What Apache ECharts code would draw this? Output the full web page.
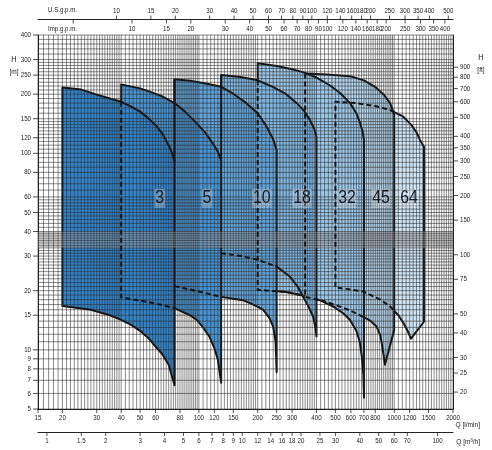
<!DOCTYPE html>
<html><head><meta charset="utf-8">
<script src="https://cdn.jsdelivr.net/npm/echarts@6/dist/echarts.min.js"></script>
<style>html,body{margin:0;padding:0;background:#fff}#c{width:492px;height:450px}</style>
</head><body><div id="c"></div>
<script>
// ---------- data (Q in l/min, H in m) ----------
const shapeNames = ['3', '5', '10', '18', '32', '45', '64'];

const top3 = [[20,216],[25,211],[30,199],[35,190],[40,183],[45,173],[50,163],[55,151],[60,139],[65,126],[70,110],[73,100],[75,90]];
const right3 = [];
const bottom3 = [[20,16.7],[28,16],[35,15],[40,14.2],[45,13.4],[50,12.5],[55,11.5],[60,10.4],[65,9.5],[70,8.4],[75,6.6]];

const top5 = [[40,224],[50,214],[56,206],[65,195],[75,180],[85,163],[97.5,142],[108,127],[118,112],[125,102],[130,92]];
const right5 = [];
const bottom5 = [[40,18.5],[50,17.8],[60,17.2],[75,16.3],[90,15],[97.5,14.2],[105,13],[113,11.7],[120,10.2],[125,8.9],[130,6.8]];

const top10 = [[75,238],[90,234],[110,226],[130,218],[150,201],[175,180],[200,160],[222,137],[240,118],[250,104]];
const right10 = [];
const bottom10 = [[75,21.1],[100,19.8],[130,18.6],[168,17.9],[190,17],[213,16],[230,14.5],[240,13.1],[247,11],[250,7.7]];

const top18 = [[130,250],[160,245],[198,236],[239,218],[280,200],[317,180],[345,165],[370,148],[390,133],[400,121]];
const right18 = [];
const bottom18 = [[130,31],[165,30],[201,28.7],[250,26.5],[292,23.6],[320,21],[342,18.6],[365,16.5],[385,14.7],[395,13],[400,11.7]];

const top32 = [[200,287],[250,278],[300,268],[341,259],[400,243],[468,222],[530,202],[594,180],[640,160],[670,142],[690,128],[700,117]];
const right32 = [];
const bottom32 = [[200,20.2],[280,19.7],[349,18.8],[420,17.8],[488,16.6],[550,15.3],[594,14.2],[640,12.5],[666,11],[685,9],[695,7.5],[700,5.7]];

const top45 = [[350,255],[450,252],[594,247],[700,235],[797,218],[880,200],[953,180],[985,165],[1000,157]];
const right45 = [[1000,12.6]];
const bottom45 = [[350,18.6],[430,17.8],[527,16.6],[600,15.8],[695,14.7],[760,14],[813,13.1],[850,11.8],[880,9.6],[896,8.4]];

const top64 = [[500,183],[643,180],[800,174],[953,166],[1109,154],[1220,140],[1300,128],[1355,117],[1420,108]];
const right64 = [[1420,13.9]];
const bottom64 = [[500,20.8],[695,19.8],[850,18],[953,16.6],[1050,15],[1117,13.65],[1170,12.5],[1219,11.4]];

// hidden boundary parts (drawn dashed)
const dash5 = [[40,183],[40,18.5],[50,17.8],[60,17.2],[75,16.3]];
const dash10 = [[75,21.1],[100,19.8],[130,18.6]];
const dash18 = [[130,31],[165,30],[201,28.7],[250,26.5]];
const dash32 = [[200,236],[200,20.2],[280,19.7],[349,18.8]];
const dash45 = [[350,255],[350,18.6],[430,17.8],[527,16.6],[600,15.8],[695,14.7]];
const dash64 = [[1000,162],[953,166],[800,174],[643,180],[500,183],[500,20.8],[695,19.8],[850,18],[953,16.6],[1000,15.8]];
const solid10 = [[75,238],[75,90]];
const solid18 = [[130,250],[130,92]];

// label positions
const labelQ = [63, 110, 210, 337, 573, 856, 1190];
const labelH = [59, 59, 59, 59, 59, 59, 59];

// tick labels
const yTicksM = [5,6,7,8,9,10,15,20,30,40,50,60,80,100,120,150,200,250,300,400];
const yTicksFt = [20,25,30,40,50,75,100,150,200,250,300,350,400,500,600,700,800,900];
const xTicksLmin = [15,20,30,40,50,60,80,100,120,150,200,250,300,400,500,600,700,800,1000,1200,1500,2000];
const xTicksM3h = [1,1.5,2,3,4,5,6,7,8,9,10,12,14,16,18,20,25,30,40,50,60,70,100];
const xTicksUS = [10,15,20,30,40,50,60,70,80,90,100,120,140,160,180,200,250,300,350,400,500];
const xTicksImp = [5,10,15,20,30,40,50,60,70,80,90,100,120,140,160,180,200,250,300,350,400];
const xLabelsImp = ['',10,15,20,30,40,50,60,70,80,90,100,120,140,160,180,200,250,300,350,400];

// grid line rules [from, to, step]
const gridQSteps = [[15,40,1],[40,100,2],[100,200,5],[200,400,10],[400,1000,20],[1000,2000,50]];
const gridHSteps = [[5,40,1],[40,60,2],[60,150,5],[150,300,10],[300,400,20]];
const bandHSteps = [[33.5,39.5,1]];
const bandH = [33, 40];

const colors = {'3':'#3383c9','5':'#4893d1','10':'#62a4da','18':'#80b7e2','32':'#9dc8ea','45':'#b8d8f0','64':'#d0e6f6'};

// ---------- helpers ----------
function expand(steps){
  const out = [];
  steps.forEach(([a,b,s]) => { for (let v = a; v <= b + 1e-9; v += s) { const r = Math.round(v*100)/100; if (!out.includes(r)) out.push(r); } });
  return out;
}
const gridQ = expand(gridQSteps);
const gridH = expand(gridHSteps);
const bandLines = expand(bandHSteps);
const FONT = '"Liberation Sans",Arial,sans-serif';
const INK = '#141414';
const NARROW = 0.82;

function shapeSeries(name, top, right, bottom){
  const pts = top.concat(right, bottom.slice().reverse());
  return {
    type:'custom', name, xAxisIndex:0, yAxisIndex:0, silent:true, data: pts,
    renderItem(params, api){
      if (params.dataIndex !== 0) return;
      return {type:'polygon', shape:{points: pts.map(p => api.coord(p))},
        style:{fill: colors[name], stroke: INK, lineWidth: 2, lineJoin:'round'}};
    }
  };
}
function lineSeries(pts, dashed){
  return {
    type:'custom', xAxisIndex:0, yAxisIndex:0, silent:true, data: pts,
    renderItem(params, api){
      if (params.dataIndex !== 0) return;
      return {type:'polyline', shape:{points: pts.map(p => api.coord(p))},
        style:{stroke: INK, lineWidth: 2, fill:null, lineDash: dashed ? [5,3] : null}};
    }
  };
}
function gridSeries(values, vertical, width, color){
  const data = values.map(v => vertical ? [v,5] : [15,v]);
  return {
    type:'custom', xAxisIndex:0, yAxisIndex:0, silent:true, data,
    renderItem(params, api){
      const v = values[params.dataIndex];
      const a = vertical ? api.coord([v,5]) : api.coord([15,v]);
      const b = vertical ? api.coord([v,400]) : api.coord([2000,v]);
      return {type:'line', shape:{x1:a[0],y1:a[1],x2:b[0],y2:b[1]}, style:{stroke:color, lineWidth:width}};
    }
  };
}
const OFF_M3H = 23, OFF_TOP = 15.5;
function tickSeries(values, labels, xIdx, yIdx, mode){
  const fixed = {left:15, right:2000, bottom:5, m3h:5, us:400, imp:400}[mode];
  const vertical = (mode === 'left' || mode === 'right');
  const data = values.map(v => vertical ? [fixed, v] : [v, fixed]);
  return {
    type:'custom', xAxisIndex:xIdx, yAxisIndex:yIdx, silent:true, data,
    renderItem(params, api){
      const p = api.coord(data[params.dataIndex]);
      const lab = labels[params.dataIndex];
      const x = p[0], y = p[1];
      let ln, tx, ty, a = 'center', va = 'middle';
      if (mode === 'left') { ln = {x1:x-5,y1:y,x2:x,y2:y}; tx = x-7; ty = y; a = 'right'; }
      else if (mode === 'right') { ln = {x1:x,y1:y,x2:x+5,y2:y}; tx = x+7; ty = y; a = 'left'; }
      else if (mode === 'bottom') { ln = {x1:x,y1:y,x2:x,y2:y+4}; tx = x; ty = y+5; va = 'top'; }
      else if (mode === 'm3h') { const y0 = y+OFF_M3H; ln = {x1:x,y1:y0,x2:x,y2:y0+4}; tx = x; ty = y0+5; va = 'top'; }
      else if (mode === 'us') { const y0 = y-OFF_TOP; ln = {x1:x,y1:y0-4,x2:x,y2:y0}; tx = x; ty = y0-5; va = 'bottom'; }
      else { const y0 = y-OFF_TOP; ln = {x1:x,y1:y0,x2:x,y2:y0+4}; tx = x; ty = y0+5; va = 'top'; }
      const children = [{type:'line', shape:ln, style:{stroke:'#222', lineWidth:0.8}}];
      if (lab !== '' && lab != null) children.push({type:'text', x:tx, y:ty, scaleX:NARROW,
        style:{text:String(lab), align:a, textAlign:a, verticalAlign:va, textVerticalAlign:va, fontSize:7.5, fontFamily:FONT, fill:'#222'}});
      return {type:'group', children};
    }
  };
}
function bandSeries(){
  return {
    type:'custom', xAxisIndex:0, yAxisIndex:0, silent:true, data:[[15, bandH[1]]],
    renderItem(params, api){
      const a = api.coord([15, bandH[1]]), b = api.coord([2000, bandH[0]]);
      return {type:'rect', shape:{x:a[0], y:a[1], width:b[0]-a[0], height:b[1]-a[1]}, style:{fill:'rgba(215,215,215,0.35)'}};
    }
  };
}
function labelSeries(){
  const data = labelQ.map((q,i) => [q, labelH[i]]);
  return {
    type:'custom', xAxisIndex:0, yAxisIndex:0, silent:true, data,
    renderItem(params, api){
      const p = api.coord(data[params.dataIndex]);
      return {type:'text', x:p[0], y:p[1], scaleX:0.88,
        style:{text:shapeNames[params.dataIndex], align:'center', textAlign:'center', verticalAlign:'middle', textVerticalAlign:'middle',
          fontSize:18, fontFamily:FONT, fill:'#121b26', backgroundColor:'rgba(255,255,255,0.28)', padding:[1,1,0,1]}};
    }
  };
}
function gtext(x, y, text, align, size){
  return {type:'text', x, y, scaleX:NARROW, style:{text, align, textAlign:align, verticalAlign:'middle', textVerticalAlign:'middle', fontSize:size, fontFamily:FONT, fill:'#222'}};
}

const hiddenAxis = {axisTick:{show:false}, axisLabel:{show:false}, splitLine:{show:false}};
const axisLineStyle = {show:true, lineStyle:{color:'#222', width:1}};

const series = [
  shapeSeries('64', top64, right64, bottom64),
  shapeSeries('45', top45, right45, bottom45),
  shapeSeries('32', top32, right32, bottom32),
  shapeSeries('18', top18, right18, bottom18),
  shapeSeries('10', top10, right10, bottom10),
  shapeSeries('5', top5, right5, bottom5),
  shapeSeries('3', top3, right3, bottom3),
  bandSeries(),
  gridSeries(gridQ, true, 0.55, '#262626'),
  gridSeries(gridH, false, 0.55, '#262626'),
  gridSeries(bandLines, false, 0.4, '#666'),
  lineSeries(dash5, true), lineSeries(dash10, true), lineSeries(dash18, true),
  lineSeries(dash32, true), lineSeries(dash45, true), lineSeries(dash64, true),
  lineSeries(solid10, false), lineSeries(solid18, false),
  tickSeries(yTicksM, yTicksM, 0, 0, 'left'),
  tickSeries(yTicksFt, yTicksFt, 0, 1, 'right'),
  tickSeries(xTicksLmin, xTicksLmin, 0, 0, 'bottom'),
  tickSeries(xTicksM3h, xTicksM3h, 1, 0, 'm3h'),
  tickSeries(xTicksUS, xTicksUS, 2, 0, 'us'),
  tickSeries(xTicksImp, xLabelsImp, 3, 0, 'imp'),
  labelSeries()
];

const chart = echarts.init(document.getElementById('c'), null, {renderer:'canvas'});
chart.setOption({
  animation:false,
  backgroundColor:'#fff',
  grid:{left:38, top:35, width:415, height:374, containLabel:false, outerBoundsMode:'none'},
  xAxis:[
    Object.assign({type:'log', logBase:10, min:15, max:2000, position:'bottom', axisLine:axisLineStyle}, hiddenAxis),
    Object.assign({type:'log', logBase:10, min:15*0.06, max:2000*0.06, position:'bottom', offset:OFF_M3H, axisLine:axisLineStyle}, hiddenAxis),
    Object.assign({type:'log', logBase:10, min:15/3.78541, max:2000/3.78541, position:'top', offset:OFF_TOP, axisLine:axisLineStyle}, hiddenAxis),
    Object.assign({type:'log', logBase:10, min:15/4.54609, max:2000/4.54609, position:'top', offset:OFF_TOP, axisLine:{show:false}}, hiddenAxis)
  ],
  yAxis:[
    Object.assign({type:'log', logBase:10, min:5, max:400, position:'left', axisLine:axisLineStyle}, hiddenAxis),
    Object.assign({type:'log', logBase:10, min:5*3.28084, max:400*3.28084, position:'right', axisLine:axisLineStyle}, hiddenAxis)
  ],
  graphic:[
    gtext(14, 60, 'H', 'center', 9),
    gtext(14, 72, '[m]', 'center', 8),
    gtext(481, 58, 'H', 'center', 9),
    gtext(481, 70, '[ft]', 'center', 8),
    gtext(48, 10, 'U.S.g.p.m.', 'left', 7.5),
    gtext(48, 29, 'Imp.g.p.m.', 'left', 7.5),
    gtext(480, 425, 'Q [l/min]', 'right', 8),
    gtext(480, 442, 'Q [m³/h]', 'right', 8)
  ],
  series
});
</script>
</body></html>
